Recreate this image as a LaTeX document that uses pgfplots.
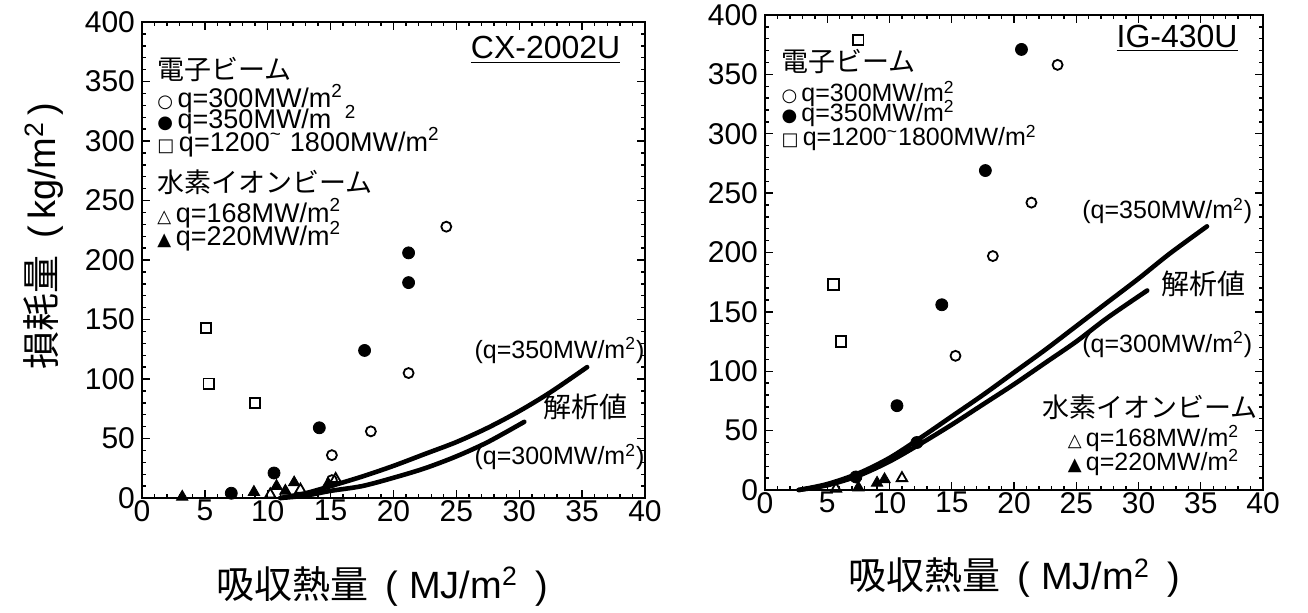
\documentclass[border=0pt]{standalone}
\usepackage{pgfplots}
\pgfplotsset{compat=1.18}
\usepackage{pgfplotstable}
\usepackage{fontspec}
\setmainfont{Liberation Sans}
\newfontfamily\jp{Noto Sans CJK JP}
\newfontfamily\sym{DejaVu Sans}

% ---------- left panel (CX-2002U) ----------
\pgfplotstableread{
x y
24.2 228
21.2 105
18.2 56
15.1 36
15.1 15
}\LopenC
\pgfplotstableread{
x y
21.2 206
21.2 181
17.7 124
14.1 59
10.5 21
7.1 4
}\LfillC
\pgfplotstableread{
x y
5.1 143
5.3 96
9.0 80
}\Lsq
\pgfplotstableread{
x y
10.2 3
12.6 7
15.4 16
}\LopenT
\pgfplotstableread{
x y
3.2 1
8.9 5
10.7 10
11.4 6
12.1 13
14.8 12
}\LfillT
\pgfplotstableread{
x y
11 0
13 4
15 10
17.5 18
20 27
22.5 37
25 47
27.5 59
30 73
32.5 89
35.4 110
}\LcurveA
\pgfplotstableread{
x y
11 0
13 2
15 6
17.5 10
20 17
22.5 25
25 35
27.5 47
30.4 64
}\LcurveB

% ---------- right panel (IG-430U) ----------
\pgfplotstableread{
x y
23.5 358
21.4 242
18.3 197
15.3 113
}\RopenC
\pgfplotstableread{
x y
20.6 371
17.7 269
14.2 156
10.6 71
12.2 40
7.3 11
}\RfillC
\pgfplotstableread{
x y
7.5 379
5.5 173
6.1 125
}\Rsq
\pgfplotstableread{
x y
5.7 1
11 10
}\RopenT
\pgfplotstableread{
x y
7.5 2
9 6
9.6 9
}\RfillT
\pgfplotstableread{
x y
2.7 0
5 5
7.5 14
10 27
12.5 44
15 62
17.5 80
20 99
22.5 118
25 138
27.5 158
30 178
32.5 199
35.5 222
}\RcurveA
\pgfplotstableread{
x y
2.7 0
5 4
7.5 12
10 24
12.5 39
15 55
17.5 72
20 89
22.5 107
25 125
27.5 145
30.7 168
}\RcurveB

\pgfplotsset{
  panel/.style={
    scale only axis, anchor=south west,
    xmin=0, xmax=40, ymin=0, ymax=400,
    xtick={0,5,...,40}, ytick={0,50,...,400},
    minor x tick num=4, minor y tick num=4,
    tick align=inside, major tick length=4pt, minor tick length=2pt,
    axis line style={line width=1.1pt},
    every tick/.style={black, line width=0.7pt},
    tick label style={font=\fontsize{15}{18}\selectfont},
    /pgf/number format/assume math mode=true,
    xticklabel style={yshift=2.5pt},
    clip=false,
  },
  oc/.style={only marks, mark=o, mark size=2.5pt, mark options={line width=0.9pt, black}},
  fc/.style={only marks, mark=*, mark size=3pt, mark options={black, fill=black}},
  sq/.style={only marks, mark=square, mark size=2.6pt, mark options={line width=0.9pt, black}},
  ot/.style={only marks, mark=triangle, mark size=3pt, mark options={line width=0.9pt, black}},
  ft/.style={only marks, mark=triangle*, mark size=3.3pt, mark options={black, fill=black}},
  cv/.style={black, line width=2.3pt, line cap=round, smooth, no marks},
}
\tikzset{
  lg/.style={anchor=west, inner sep=0pt, font=\fontsize{13.5}{14}\selectfont},
  lgs/.style={anchor=west, inner sep=0pt, font=\fontsize{12.5}{13}\selectfont},
}
\newcommand{\sm}[1]{{\sym\fontsize{9}{9}\selectfont #1}}

\begin{document}
\begin{tikzpicture}[x=1pt,y=1pt]
\useasboundingbox (0,0) rectangle (654,306);

% ================= LEFT =================
\begin{axis}[panel, at={(71pt,57pt)}, width=251.5pt, height=238pt,
  xlabel={{\jp 吸収熱量}\hspace{0.45em}(\hspace{0.3em}MJ/m\textsuperscript{2}\hspace{0.45em})},
  xlabel style={at={(axis description cs:0.477,-0.185)}, anchor=center, font=\fontsize{19}{22}\selectfont},
  ylabel={{\jp 損耗量}\hspace{0.45em}(\hspace{0.15em}kg/m\textsuperscript{2}\hspace{0.15em})},
  ylabel style={at={(axis description cs:-0.195,0.55)}, anchor=center, font=\fontsize{19}{22}\selectfont},
]
\addplot[cv] table {\LcurveA};
\addplot[cv] table {\LcurveB};
\addplot[oc] table {\LopenC};
\addplot[fc] table {\LfillC};
\addplot[sq] table {\Lsq};
\addplot[ot] table {\LopenT};
\addplot[ft] table {\LfillT};

\node[anchor=center, font=\fontsize{16}{18}\selectfont] at (axis cs:32.1,376.5) {\underline{CX-2002U}};
\node[lg] at (axis cs:1.2,360.5) {\jp 電子ビーム};
\node[lg] at (axis cs:1.2,335.5) {\sm{○}\,q=300MW/m\textsuperscript{2}};
\node[lg] at (axis cs:1.2,318) {\sm{●}\,q=350MW/m\hspace{0.5em}\textsuperscript{2}};
\node[lg] at (axis cs:1.2,299) {\sm{□}\,q=1200\textsuperscript{\textasciitilde}\hspace{0.3em}1800MW/m\textsuperscript{2}};
\node[lg] at (axis cs:1.2,265.5) {\jp 水素イオンビーム};
\node[lg] at (axis cs:1.2,239.5) {\sm{△}\,q=168MW/m\textsuperscript{2}};
\node[lg] at (axis cs:1.2,220) {\sm{▲}\,q=220MW/m\textsuperscript{2}};

\node[anchor=center, font=\fontsize{12.5}{13}\selectfont] at (axis cs:33.2,124) {(q=350MW/m\textsuperscript{2})};
\node[anchor=center, font=\fontsize{14}{15}\selectfont] at (axis cs:35.3,76.5) {\jp 解析値};
\node[anchor=center, font=\fontsize{12.5}{13}\selectfont] at (axis cs:33.2,34.5) {(q=300MW/m\textsuperscript{2})};
\end{axis}

% ================= RIGHT =================
\begin{axis}[panel, at={(382.5pt,61pt)}, width=249pt, height=237.5pt,
  xlabel={{\jp 吸収熱量}\hspace{0.45em}(\hspace{0.3em}MJ/m\textsuperscript{2}\hspace{0.45em})},
  xlabel style={at={(axis description cs:0.5,-0.185)}, anchor=center, font=\fontsize{19}{22}\selectfont},
]
\addplot[cv] table {\RcurveA};
\addplot[cv] table {\RcurveB};
\addplot[oc] table {\RopenC};
\addplot[fc] table {\RfillC};
\addplot[sq] table {\Rsq};
\addplot[ot] table {\RopenT};
\addplot[ft] table {\RfillT};

\node[anchor=center, font=\fontsize{16}{18}\selectfont] at (axis cs:33.1,380) {\underline{IG-430U}};
\node[lg] at (axis cs:1.3,361) {\jp 電子ビーム};
\node[lgs] at (axis cs:1.3,333.5) {\sm{○}\,q=300MW/m\textsuperscript{2}};
\node[lgs] at (axis cs:1.3,317) {\sm{●}\,q=350MW/m\textsuperscript{2}};
\node[lgs] at (axis cs:1.3,296.5) {\sm{□}\,q=1200\textsuperscript{\textasciitilde}1800MW/m\textsuperscript{2}};

\node[anchor=east, font=\fontsize{12.5}{13}\selectfont] at (axis cs:39.7,235) {(q=350MW/m\textsuperscript{2})};
\node[anchor=center, font=\fontsize{14}{15}\selectfont] at (axis cs:35.2,173.6) {\jp 解析値};
\node[anchor=east, font=\fontsize{12.5}{13}\selectfont] at (axis cs:39.7,122.5) {(q=300MW/m\textsuperscript{2})};

\node[anchor=east, inner sep=0pt, font=\fontsize{13.5}{14}\selectfont] at (axis cs:39.6,70) {\jp 水素イオンビーム};
\node[lgs] at (axis cs:24.3,43.4) {\sm{△}\,q=168MW/m\textsuperscript{2}};
\node[lgs] at (axis cs:24.3,23.4) {\sm{▲}\,q=220MW/m\textsuperscript{2}};
\end{axis}
\end{tikzpicture}
\end{document}
